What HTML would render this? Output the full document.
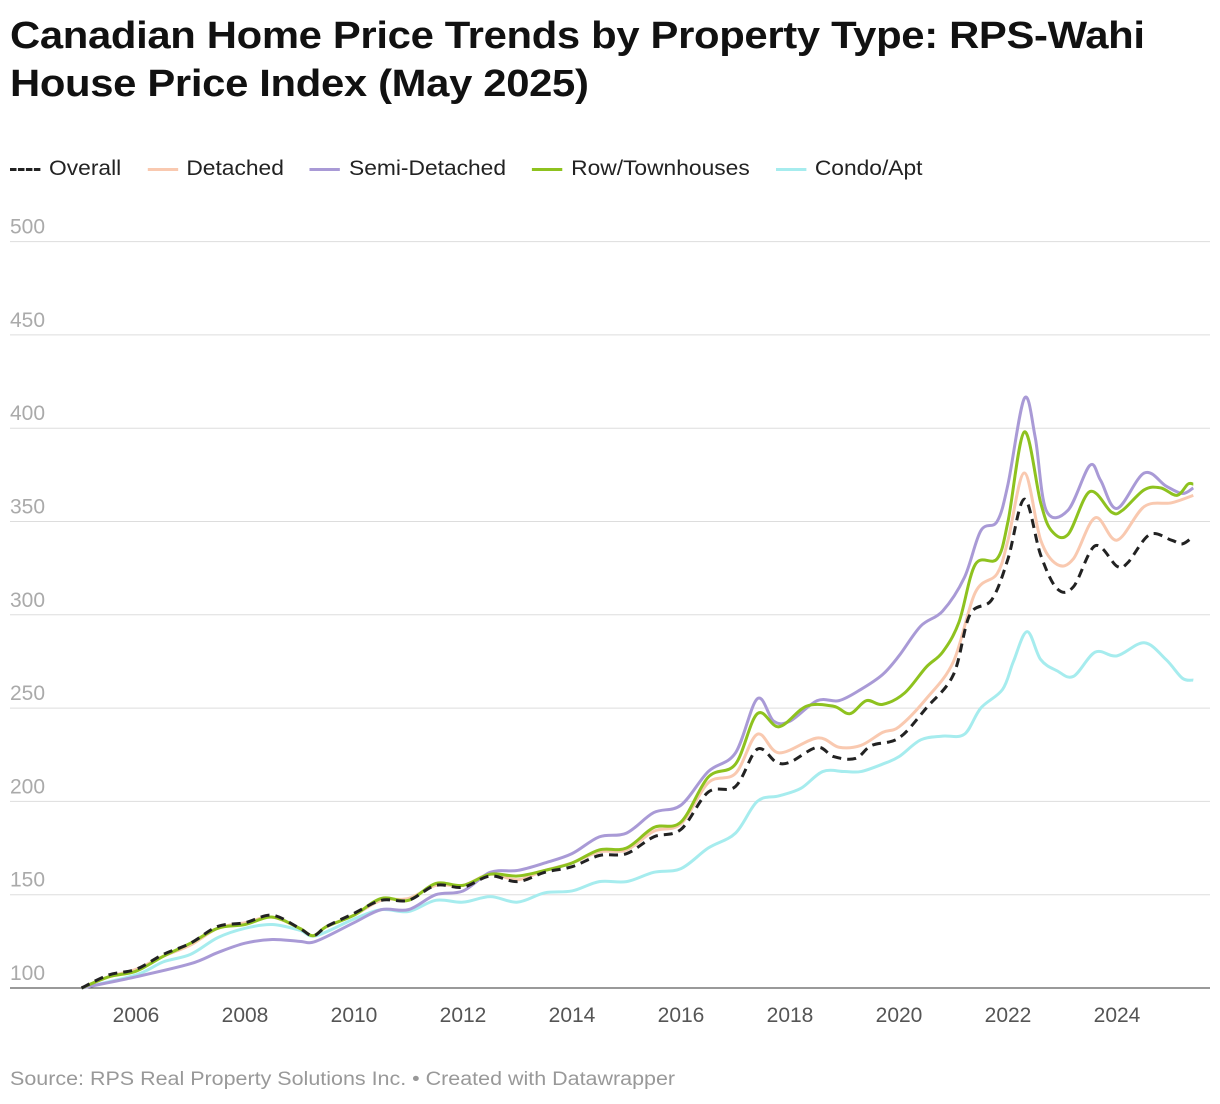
<!DOCTYPE html>
<html><head><meta charset="utf-8"><style>
body{margin:0;width:1220px;height:1104px;background:#fff;font-family:"Liberation Sans",sans-serif;overflow:hidden;position:relative}
h1{position:absolute;left:10px;top:12px;margin:0;font-size:38px;line-height:48px;font-weight:bold;color:#111;letter-spacing:-0.3px;transform:scaleX(1.1);transform-origin:0 0;white-space:nowrap}
.legend{position:absolute;left:10px;top:157px;font-size:21px;color:#222;display:flex;gap:24px;transform:scaleX(1.085);transform-origin:0 0;white-space:nowrap}
.li{display:flex;align-items:center;gap:8px}
.sw{width:28px;height:0;border-top:3px solid}
.src{position:absolute;left:10px;top:1069px;font-size:19px;color:#999;transform:scaleX(1.13);transform-origin:0 0;white-space:nowrap}
</style></head><body>
<h1>Canadian Home Price Trends by Property Type: RPS-Wahi<br>House Price Index (May 2025)</h1>
<div class="legend">
<div class="li"><span class="sw" style="border-top:3px dashed #222"></span>Overall</div>
<div class="li"><span class="sw" style="border-color:#f9c9b0"></span>Detached</div>
<div class="li"><span class="sw" style="border-color:#a99ad6"></span>Semi-Detached</div>
<div class="li"><span class="sw" style="border-color:#8ec21f"></span>Row/Townhouses</div>
<div class="li"><span class="sw" style="border-color:#a6ecee"></span>Condo/Apt</div>
</div>
<svg id="chart" width="1220" height="1104" style="position:absolute;left:0;top:0"></svg>
<div class="src">Source: RPS Real Property Solutions Inc. • Created with Datawrapper</div>
<script>
const yTicks=[100,150,200,250,300,350,400,450,500];
const xTicks=[2006,2008,2010,2012,2014,2016,2018,2020,2022,2024];
const overallT=[2005,2005.5,2006,2006.5,2007,2007.5,2008,2008.5,2009,2009.25,2009.5,2010,2010.5,2011,2011.5,2012,2012.5,2013,2013.5,2014,2014.5,2015,2015.5,2016,2016.5,2017,2017.4,2017.75,2018,2018.5,2018.8,2019.2,2019.5,2020,2020.5,2021,2021.3,2021.7,2022,2022.3,2022.6,2022.9,2023.2,2023.6,2024,2024.2,2024.6,2025,2025.2,2025.4];
const overallV=[100,107,110,118,124,133,135,139,132,128,133,140,147,147,155,154,160,157,162,165,171,172,181,185,205,208,228,221,221,229,224,223,230,234,250,268,300,308,330,362,332,314,315,337,326,328,343,340,338,342];
const detachedT=[2005,2005.5,2006,2006.5,2007,2007.5,2008,2008.5,2009,2009.25,2009.5,2010,2010.5,2011,2011.5,2012,2012.5,2013,2013.5,2014,2014.5,2015,2015.5,2016,2016.5,2017,2017.4,2017.8,2018.5,2018.9,2019.3,2019.7,2020,2020.5,2021,2021.4,2021.8,2022,2022.3,2022.6,2022.9,2023.2,2023.6,2024,2024.5,2025,2025.4];
const detachedV=[100,106,110,117,123,132,135,138,132,128,133,139,147,148,155,155,161,158,163,167,173,174,184,188,210,215,236,226,234,229,230,237,240,255,275,312,322,340,376,340,327,330,352,340,358,360,364];
const semiT=[2005,2006,2007,2007.5,2008,2008.5,2009,2009.3,2010,2010.5,2011,2011.5,2012,2012.5,2013,2013.5,2014,2014.5,2015,2015.5,2016,2016.5,2017,2017.4,2017.7,2018,2018.5,2018.9,2019.3,2019.7,2020,2020.4,2020.8,2021.2,2021.5,2021.8,2022,2022.3,2022.5,2022.7,2023.1,2023.5,2023.7,2024,2024.5,2024.9,2025.2,2025.4];
const semiV=[100,106,113,119,124,126,125,125,135,142,142,150,152,162,163,167,172,181,183,194,198,216,226,255,243,243,254,254,260,268,278,294,302,320,345,350,370,416,395,356,356,380,372,357,376,369,365,368];
const rowT=[2005,2005.5,2006,2006.5,2007,2007.5,2008,2008.5,2009,2009.25,2009.5,2010,2010.5,2011,2011.5,2012,2012.5,2013,2013.5,2014,2014.5,2015,2015.5,2016,2016.5,2017,2017.4,2017.8,2018.3,2018.8,2019.1,2019.4,2019.7,2020.1,2020.5,2020.8,2021.1,2021.4,2021.8,2022,2022.3,2022.6,2022.8,2023.1,2023.5,2023.9,2024.1,2024.5,2024.8,2025.1,2025.3,2025.4];
const rowV=[100,106,109,117,124,132,134,138,132,128,133,139,148,147,156,155,161,160,163,167,174,175,186,189,213,220,247,240,251,251,247,254,252,258,272,280,296,327,330,350,398,360,345,343,366,355,356,367,368,364,370,370];
const condoT=[2005,2006,2006.5,2007,2007.5,2008,2008.5,2009,2009.3,2010,2010.5,2011,2011.5,2012,2012.5,2013,2013.5,2014,2014.5,2015,2015.5,2016,2016.5,2017,2017.4,2017.8,2018.2,2018.6,2019,2019.3,2019.7,2020,2020.4,2020.8,2021.2,2021.5,2021.9,2022.1,2022.35,2022.6,2022.9,2023.2,2023.6,2024,2024.5,2024.9,2025.2,2025.4];
const condoV=[100,107,114,118,127,132,134,131,128,137,142,141,147,146,149,146,151,152,157,157,162,164,175,183,200,203,207,216,216,216,220,224,233,235,236,250,260,275,291,276,270,267,280,278,285,276,266,265];

const svg=document.getElementById('chart');
const NS='http://www.w3.org/2000/svg';
const X=t=>81.5+(t-2005)*54.5;
const Y=v=>988-(v-100)*1.866;
function mk(tag,attrs){const e=document.createElementNS(NS,tag);for(const k in attrs)e.setAttribute(k,attrs[k]);svg.appendChild(e);return e;}
yTicks.forEach(v=>{
 const l=mk('line',{x1:10,x2:1210,y1:Y(v),y2:Y(v),stroke:v===100?'#333':'#ddd','stroke-width':1});
 
 
 const t=mk('text',{x:10,y:Y(v)-8,fill:'#aaa','font-size':21,'font-family':'Liberation Sans, sans-serif'});
 t.textContent=v;
 
 
});
xTicks.forEach(yr=>{
 const t=mk('text',{x:X(yr),y:1022,fill:'#555','font-size':21,'text-anchor':'middle','font-family':'Liberation Sans, sans-serif'});
 t.textContent=yr;
 
 
});
function path(T,V){
 const p=T.map((t,i)=>[X(t),Y(V[i])]);
 let d='M'+p[0][0]+','+p[0][1];
 for(let i=0;i<p.length-1;i++){
  const p0=p[i-1]||p[i],p1=p[i],p2=p[i+1],p3=p[i+2]||p2;
  const c1=[p1[0]+(p2[0]-p0[0])/6,p1[1]+(p2[1]-p0[1])/6];
  const c2=[p2[0]-(p3[0]-p1[0])/6,p2[1]-(p3[1]-p1[1])/6];
  d+=`C${c1[0]},${c1[1]} ${c2[0]},${c2[1]} ${p2[0]},${p2[1]}`;
 }
 return d;
}
const series=[
 ['condo-apt-line',condoT,condoV,'#a6ecee',''],
 ['detached-line',detachedT,detachedV,'#f9c9b0',''],
 ['semi-detached-line',semiT,semiV,'#a99ad6',''],
 ['row-townhouses-line',rowT,rowV,'#8ec21f',''],
 ['overall-line',overallT,overallV,'#222','9,6']
];
series.forEach(s=>{
 const e=mk('path',{d:path(s[1],s[2]),fill:'none',stroke:s[3],'stroke-width':3,'stroke-linejoin':'round'});
 if(s[4])e.setAttribute('stroke-dasharray',s[4]);
 
 
});
</script>
</body></html>
